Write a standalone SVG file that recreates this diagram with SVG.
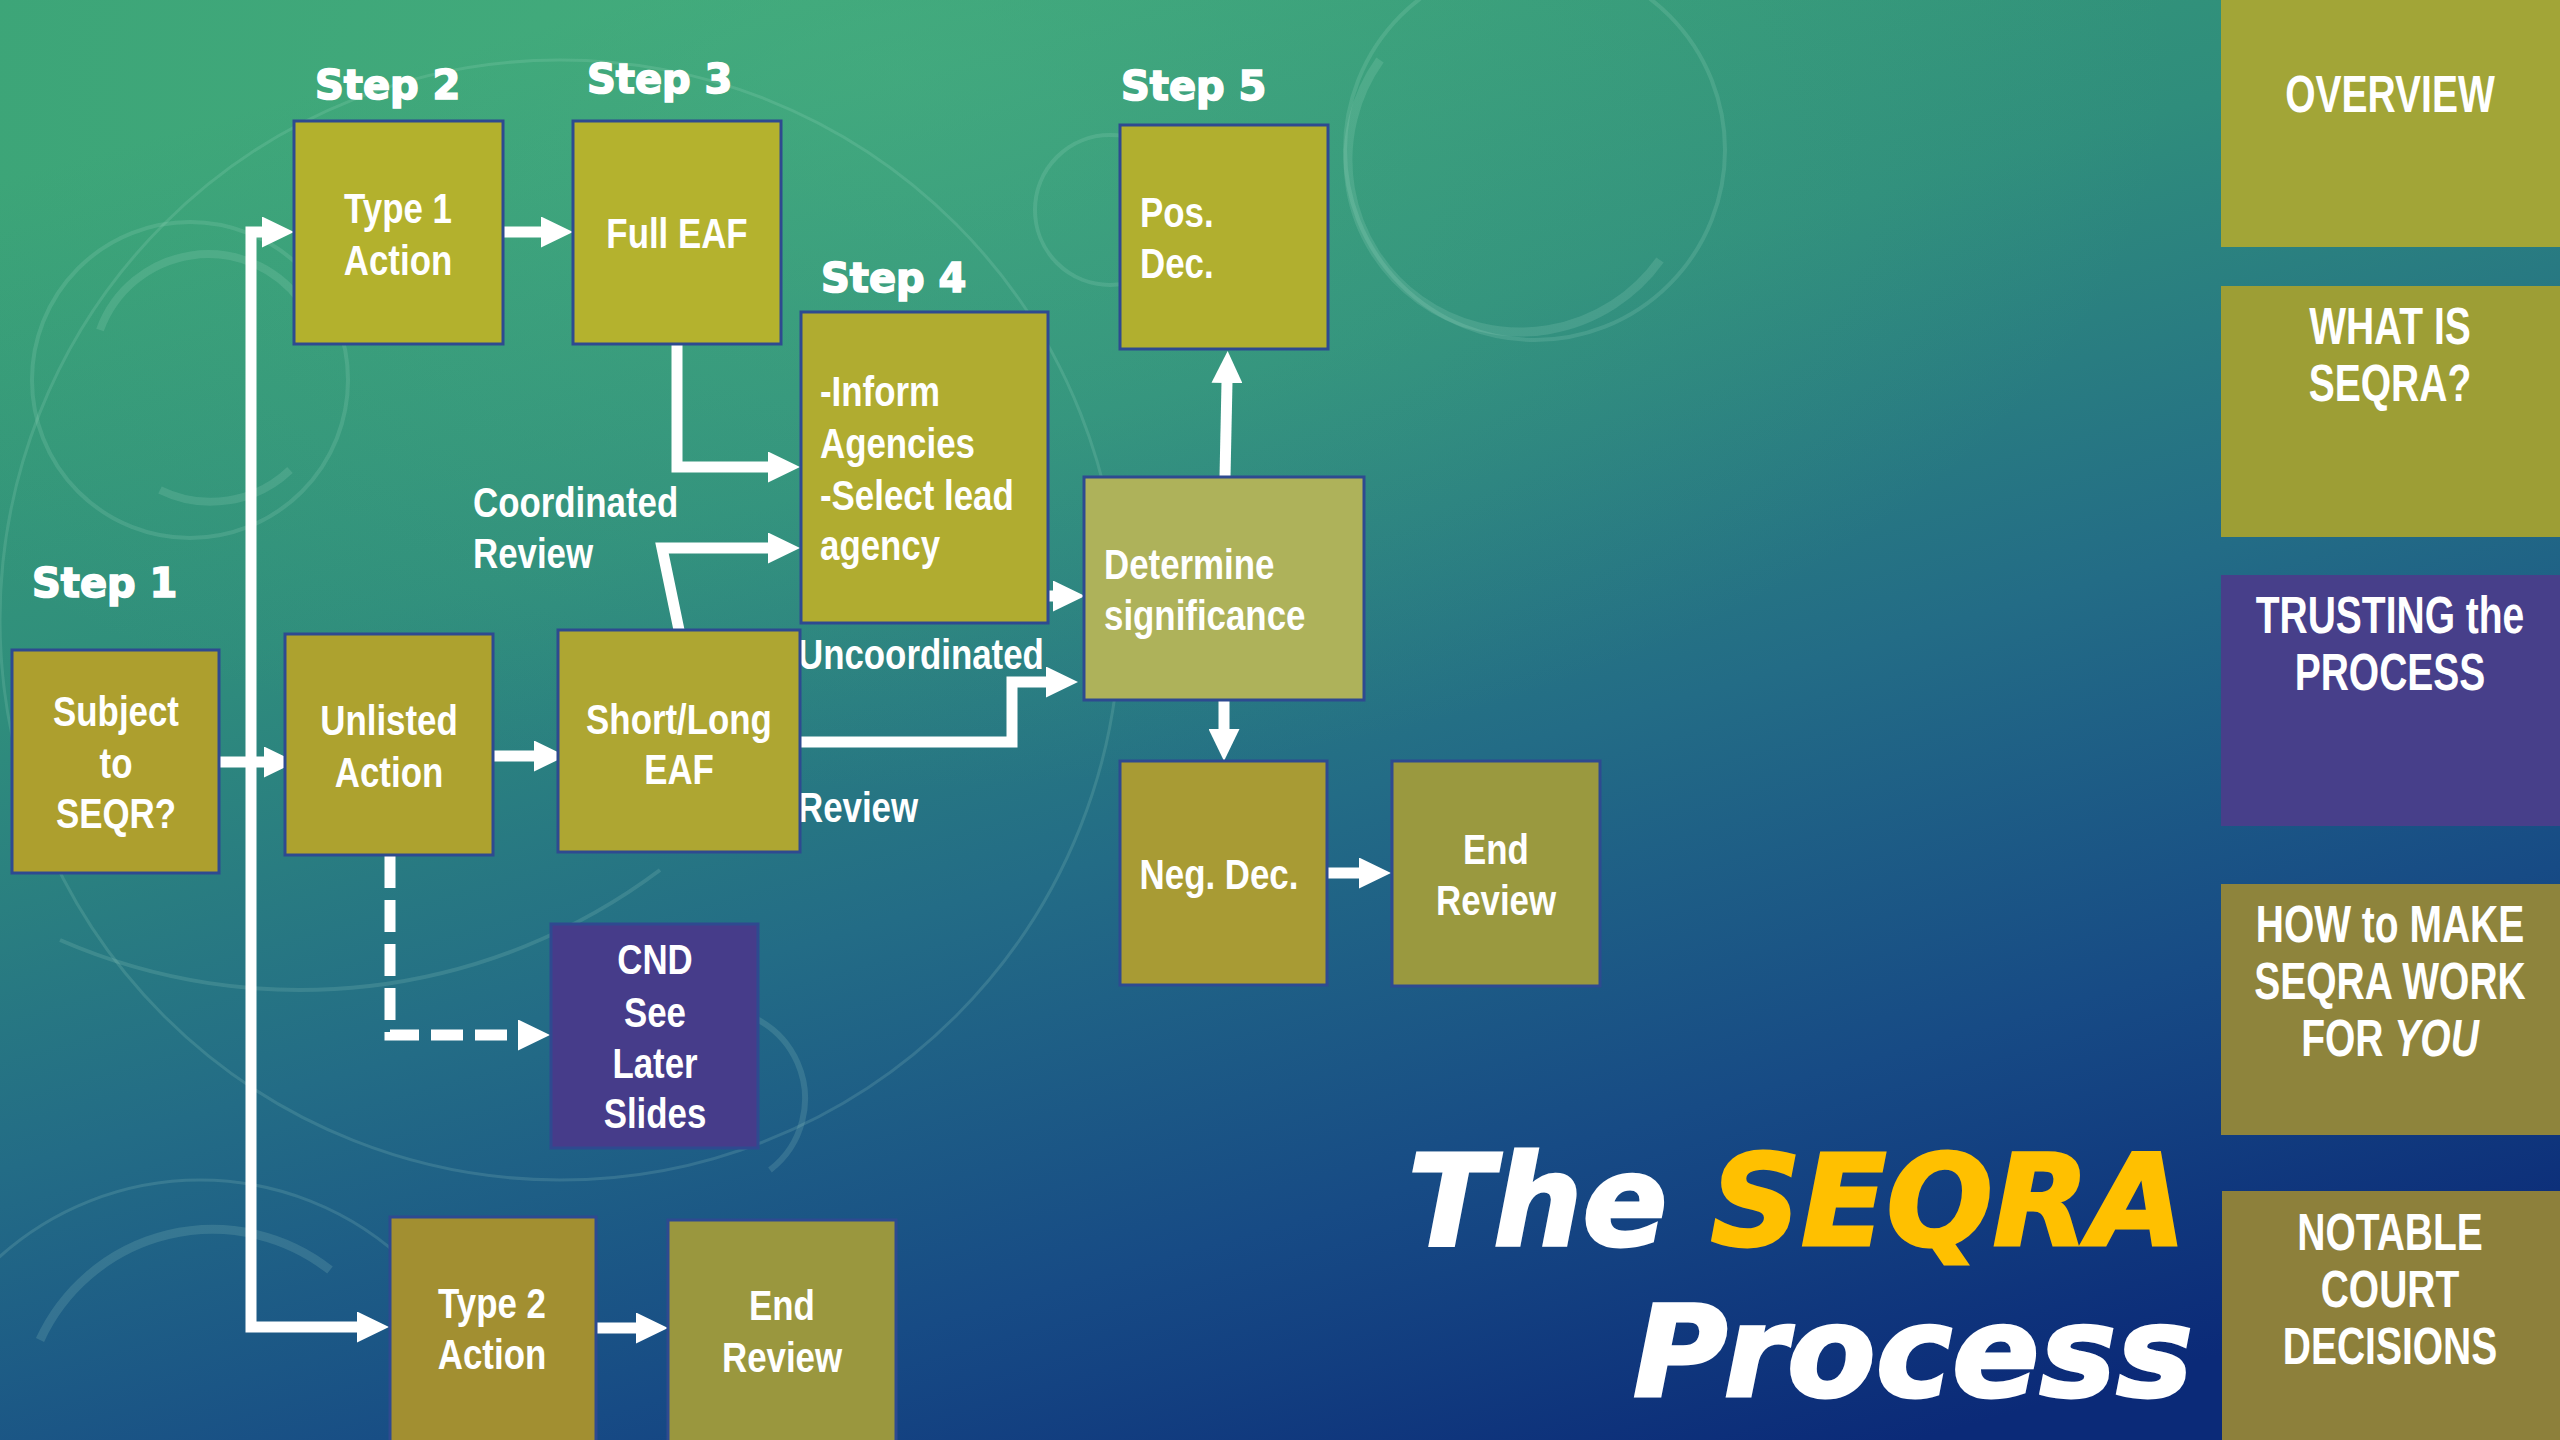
<svg xmlns="http://www.w3.org/2000/svg" width="2560" height="1440" viewBox="0 0 2560 1440">
<defs>
  <linearGradient id="bg" x1="0.25" y1="0" x2="0.75" y2="1">
    <stop offset="0" stop-color="#3aa276"/>
    <stop offset="0.3" stop-color="#2f8d7c"/>
    <stop offset="0.55" stop-color="#236c86"/>
    <stop offset="0.78" stop-color="#174b85"/>
    <stop offset="1" stop-color="#0b2a78"/>
  </linearGradient>
  <radialGradient id="glow" cx="0.35" cy="0.05" r="0.5">
    <stop offset="0" stop-color="#56c08a" stop-opacity="0.35"/>
    <stop offset="1" stop-color="#56c08a" stop-opacity="0"/>
  </radialGradient>
  <marker id="ah" viewBox="0 0 32 31" refX="1" refY="15.5" markerWidth="32" markerHeight="31" markerUnits="userSpaceOnUse" orient="auto">
    <path d="M0,0 L32,15.5 L0,31 Z" fill="#ffffff"/>
  </marker>
  <style>
    .box { stroke: #2e4a90; stroke-width: 3; }
    .side { stroke: none; }
    .nt { font-family: "Liberation Sans", Arial, sans-serif; font-weight: bold; font-size: 42px; fill: #ffffff; }
    .c { text-anchor: middle; }
    .st { font-family: "DejaVu Sans", "Liberation Sans", sans-serif; font-weight: bold; font-size: 40px; fill: #ffffff; stroke: #ffffff; stroke-width: 1.6px; }
    .sb { font-family: "Liberation Sans", Arial, sans-serif; font-weight: bold; font-size: 52px; fill: #ffffff; text-anchor: middle; }
    .ttl { font-family: "DejaVu Sans", "Liberation Sans", sans-serif; font-weight: bold; font-style: oblique; font-size: 126px; fill: #ffffff; stroke: #ffffff; stroke-width: 3px; }
    .ttl .y { fill: #ffc000; stroke: #ffc000; }
    .ln { fill: none; stroke: #ffffff; stroke-width: 11; stroke-linejoin: miter; stroke-linecap: butt; }
    .dash { stroke-dasharray: 32 12; }
    .deco { fill: none; stroke: #bfe8d8; stroke-opacity: 0.15; }
  </style>
</defs>

<rect x="0" y="0" width="2560" height="1440" fill="url(#bg)"/>
<rect x="0" y="0" width="2560" height="1440" fill="url(#glow)"/>

<g id="decor">
  <circle class="deco" cx="190" cy="380" r="158" stroke-width="4"/>
  <path class="deco" d="M100,330 A115,115 0 0 1 300,300" stroke-width="8"/>
  <path class="deco" d="M160,490 A115,115 0 0 0 290,470" stroke-width="8"/>
  <circle class="deco" cx="1535" cy="150" r="190" stroke-width="4"/>
  <path class="deco" d="M1380,60 A170,170 0 0 0 1660,260" stroke-width="9"/>
  <circle class="deco" cx="1110" cy="210" r="75" stroke-width="4"/>
  <circle class="deco" cx="560" cy="620" r="560" stroke-width="3" stroke-opacity="0.09"/>
  <path class="deco" d="M40,1340 A190,190 0 0 1 330,1270" stroke-width="9"/>
  <circle class="deco" cx="200" cy="1480" r="300" stroke-width="3"/>
  <path class="deco" d="M700,1010 A90,90 0 0 1 770,1170" stroke-width="6"/>
  <path class="deco" d="M60,940 A600,600 0 0 0 660,870" stroke-width="4"/>
</g>

<g id="connectors">
  <path class="ln" d="M251,762 V232 H263" marker-end="url(#ah)"/>
  <path class="ln" d="M251,762 V1327 H358" marker-end="url(#ah)"/>
  <path class="ln" d="M219,762 H265" marker-end="url(#ah)"/>
  <path class="ln" d="M503,232 H542" marker-end="url(#ah)"/>
  <path class="ln" d="M677,344 V467 H769" marker-end="url(#ah)"/>
  <path class="ln" d="M679,630 L662,548 H769" marker-end="url(#ah)"/>
  <path class="ln" d="M493,756 H535" marker-end="url(#ah)"/>
  <path class="ln" d="M800,742 H1012 V682 H1047" marker-end="url(#ah)"/>
  <path class="ln" d="M1047,596 H1054" marker-end="url(#ah)"/>
  <path class="ln" d="M1225,477 L1227,382" marker-end="url(#ah)"/>
  <path class="ln" d="M1224,700 V730" marker-end="url(#ah)"/>
  <path class="ln" d="M1327,873 H1360" marker-end="url(#ah)"/>
  <path class="ln dash" d="M390,856 V1035 H519" marker-end="url(#ah)"/>
  <path class="ln" d="M596,1328 H637" marker-end="url(#ah)"/>
</g>

<g id="step-labels">
  <text class="st" x="32" y="597">Step 1</text>
  <text class="st" x="315" y="99">Step 2</text>
  <text class="st" x="587" y="93">Step 3</text>
  <text class="st" x="821" y="292">Step 4</text>
  <text class="st" x="1121" y="100">Step 5</text>
</g>

<g id="edge-labels">
  <text class="nt" transform="translate(473,517) scale(0.83 1)"><tspan x="0" y="0">Coordinated</tspan><tspan x="0" y="51">Review</tspan></text>
  <text class="nt" transform="translate(798,669) scale(0.83 1)">Uncoordinated</text>
  <text class="nt" transform="translate(798,822) scale(0.83 1)">Review</text>
</g>

<g id="node-subject">
  <rect class="box" x="12" y="650" width="207" height="223" fill="#ad9f2e"/>
  <text class="nt c" transform="translate(116,726) scale(0.83 1)"><tspan x="0" y="0">Subject</tspan><tspan x="0" y="52">to</tspan><tspan x="0" y="102">SEQR?</tspan></text>
</g>

<g id="node-type1">
  <rect class="box" x="294" y="121" width="209" height="223" fill="#b3b12d"/>
  <text class="nt c" transform="translate(398,223) scale(0.83 1)"><tspan x="0" y="0">Type 1</tspan><tspan x="0" y="52">Action</tspan></text>
</g>

<g id="node-fulleaf">
  <rect class="box" x="573" y="121" width="208" height="223" fill="#b4b22e"/>
  <text class="nt c" transform="translate(677,248) scale(0.83 1)">Full EAF</text>
</g>

<g id="node-unlisted">
  <rect class="box" x="285" y="634" width="208" height="221" fill="#ada22f"/>
  <text class="nt c" transform="translate(389,735) scale(0.83 1)"><tspan x="0" y="0">Unlisted</tspan><tspan x="0" y="52">Action</tspan></text>
</g>

<g id="node-shortlong">
  <rect class="box" x="558" y="630" width="242" height="222" fill="#aea632"/>
  <text class="nt c" transform="translate(679,734) scale(0.83 1)"><tspan x="0" y="0">Short/Long</tspan><tspan x="0" y="50">EAF</tspan></text>
</g>

<g id="node-step4">
  <rect class="box" x="801" y="312" width="247" height="311" fill="#b0ac30"/>
  <text class="nt" transform="translate(820,406) scale(0.83 1)"><tspan x="0" y="0">-Inform</tspan><tspan x="0" y="52">Agencies</tspan><tspan x="0" y="104">-Select lead</tspan><tspan x="0" y="154">agency</tspan></text>
</g>

<g id="node-posdec">
  <rect class="box" x="1120" y="125" width="208" height="224" fill="#b1af2f"/>
  <text class="nt" transform="translate(1140,227) scale(0.83 1)"><tspan x="0" y="0">Pos.</tspan><tspan x="0" y="51">Dec.</tspan></text>
</g>

<g id="node-determine">
  <rect class="box" x="1084" y="477" width="280" height="223" fill="#aeb25a"/>
  <text class="nt" transform="translate(1104,579) scale(0.83 1)"><tspan x="0" y="0">Determine</tspan><tspan x="0" y="51">significance</tspan></text>
</g>

<g id="node-negdec">
  <rect class="box" x="1120" y="761" width="207" height="224" fill="#a89b34"/>
  <text class="nt c" transform="translate(1219,889) scale(0.83 1)">Neg. Dec.</text>
</g>

<g id="node-endreview1">
  <rect class="box" x="1392" y="761" width="208" height="225" fill="#9a993f"/>
  <text class="nt c" transform="translate(1496,864) scale(0.83 1)"><tspan x="0" y="0">End</tspan><tspan x="0" y="51">Review</tspan></text>
</g>

<g id="node-cnd">
  <rect class="box" x="551" y="924" width="207" height="224" fill="#463c8a"/>
  <text class="nt c" transform="translate(655,974) scale(0.83 1)"><tspan x="0" y="0">CND</tspan><tspan x="0" y="53">See</tspan><tspan x="0" y="104">Later</tspan><tspan x="0" y="154">Slides</tspan></text>
</g>

<g id="node-type2">
  <rect class="box" x="390" y="1217" width="206" height="226" fill="#a28f31"/>
  <text class="nt c" transform="translate(492,1318) scale(0.83 1)"><tspan x="0" y="0">Type 2</tspan><tspan x="0" y="51">Action</tspan></text>
</g>

<g id="node-endreview2">
  <rect class="box" x="668" y="1220" width="228" height="223" fill="#9a973e"/>
  <text class="nt c" transform="translate(782,1320) scale(0.83 1)"><tspan x="0" y="0">End</tspan><tspan x="0" y="52">Review</tspan></text>
</g>

<g id="title">
  <text class="ttl" x="1408" y="1245" textLength="778" lengthAdjust="spacingAndGlyphs">The <tspan class="y">SEQRA</tspan></text>
  <text class="ttl" x="1633" y="1396" textLength="560" lengthAdjust="spacingAndGlyphs">Process</text>
</g>

<g id="nav-overview">
  <rect class="side" x="2221" y="0" width="339" height="247" fill="#a2a537"/>
  <text class="sb" transform="translate(2390,112) scale(0.75 1)">OVERVIEW</text>
</g>
<g id="nav-whatis">
  <rect class="side" x="2221" y="286" width="339" height="251" fill="#9d9e35"/>
  <text class="sb" transform="translate(2390,344) scale(0.75 1)"><tspan x="0" y="0">WHAT IS</tspan><tspan x="0" y="57">SEQRA?</tspan></text>
</g>
<g id="nav-trusting">
  <rect class="side" x="2221" y="575" width="339" height="251" fill="#473f8a"/>
  <text class="sb" transform="translate(2390,633) scale(0.75 1)"><tspan x="0" y="0">TRUSTING the</tspan><tspan x="0" y="57">PROCESS</tspan></text>
</g>
<g id="nav-howto">
  <rect class="side" x="2221" y="884" width="339" height="251" fill="#8e843c"/>
  <text class="sb" transform="translate(2390,942) scale(0.75 1)"><tspan x="0" y="0">HOW to MAKE</tspan><tspan x="0" y="57">SEQRA WORK</tspan><tspan x="0" y="114">FOR <tspan font-style="italic">YOU</tspan></tspan></text>
</g>
<g id="nav-notable">
  <rect class="side" x="2222" y="1191" width="338" height="249" fill="#8d803b"/>
  <text class="sb" transform="translate(2390,1250) scale(0.75 1)"><tspan x="0" y="0">NOTABLE</tspan><tspan x="0" y="57">COURT</tspan><tspan x="0" y="114">DECISIONS</tspan></text>
</g>
</svg>
